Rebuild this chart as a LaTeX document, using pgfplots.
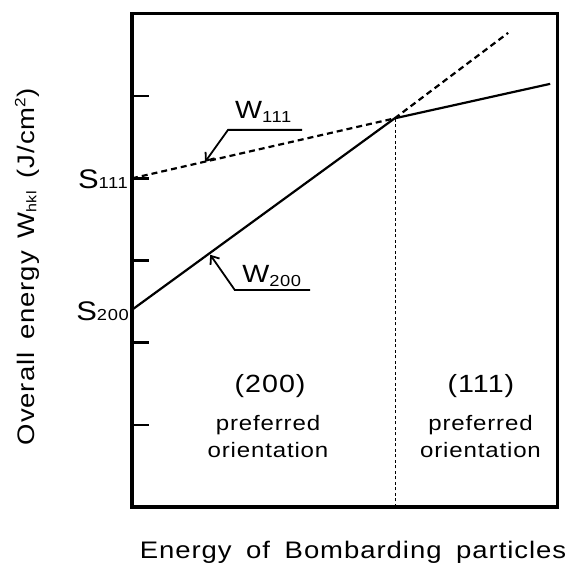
\documentclass[border=0pt]{standalone}
\usepackage{fontspec}
\setmainfont[FakeStretch=1.15,LetterSpace=4]{Liberation Sans}
\usepackage{pgfplots}
\pgfplotsset{compat=1.18}
\usetikzlibrary{arrows.meta}
\newcommand{\sub}[2][-4bp]{\raisebox{#1}{\fontsize{16}{16}\selectfont #2}}
\begin{document}
\begin{tikzpicture}
\useasboundingbox (0,0) rectangle (568bp,565bp);
\begin{axis}[
  at={(132bp,58bp)}, anchor=south west,
  scale only axis, width=425bp, height=493bp,
  xmin=0, xmax=10, ymin=0, ymax=6,
  axis line style={line width=3bp},
  xtick=\empty, ytick={1,2,3,4,5}, yticklabels={},
  ytick pos=left, tick align=inside, major tick length=17bp,
  tick style={line width=2.4bp, black},
  xlabel={Energy\hspace{6bp} of\hspace{6bp} Bombarding\hspace{6bp} particles},
  xlabel style={at={(axis description cs:0.52,-0.091)}, anchor=center, inner sep=0, font=\fontsize{24}{28}\selectfont},
  ylabel={Overall\hspace{4bp} energy\hspace{4bp} W\raisebox{-2bp}{\fontsize{14}{14}\selectfont hkl}\hspace{4bp} (J/cm\raisebox{9bp}{\fontsize{15}{15}\selectfont 2})},
  ylabel style={at={(axis description cs:-0.247,0.487)}, anchor=center, inner sep=0, font=\fontsize{24}{28}\selectfont},
  clip=false,
]
% W200 (solid below crossing, dashed extension)
\addplot[black, line width=2.2bp] coordinates {(0,2.40) (6.18,4.73)};
\addplot[black, line width=2.2bp, dash pattern=on 6bp off 4bp] coordinates {(6.18,4.73) (8.85,5.77)};
% W111 (dashed below crossing, solid after)
\addplot[black, line width=2.2bp, dash pattern=on 6bp off 4bp] coordinates {(0,4.00) (6.18,4.73)};
\addplot[black, line width=2.2bp] coordinates {(6.18,4.73) (9.84,5.15)};
% boundary
\addplot[black, line width=1.8bp, dash pattern=on 3bp off 2.5bp] coordinates {(6.2,0) (6.2,4.73)};
% leaders
\addplot[black, line width=1.8bp, {Straight Barb[length=7bp,width=11bp]}-] coordinates {(1.72,4.20) (2.26,4.59) (4.0,4.59)};
\addplot[black, line width=1.8bp, {Straight Barb[length=7bp,width=11bp]}-] coordinates {(1.84,3.07) (2.42,2.64) (4.19,2.64)};
\node[anchor=base west, inner sep=0, font=\fontsize{25}{25}\selectfont] at (axis cs:2.42,4.73) {W\sub{111}};
\node[anchor=base west, inner sep=0, font=\fontsize{25}{25}\selectfont] at (axis cs:2.59,2.73) {W\sub{200}};
\node[anchor=base east, inner sep=0, xshift=-4bp, yshift=-10bp, font=\fontsize{27}{27}\selectfont] at (axis cs:0,4.00) {S\sub[0bp]{111}};
\node[anchor=base east, inner sep=0, xshift=-3bp, yshift=-11bp, font=\fontsize{27}{27}\selectfont] at (axis cs:0,2.40) {S\sub[0bp]{200}};
% region labels
\node[anchor=center, font=\fontsize{25}{25}\selectfont] at (axis cs:3.25,1.47) {(200)};
\node[anchor=center, font=\fontsize{25}{25}\selectfont] at (axis cs:8.21,1.47) {(111)};
\node[anchor=center, align=center, font=\fontsize{21}{27}\selectfont] at (axis cs:3.2,0.86) {preferred\\orientation};
\node[anchor=center, align=center, font=\fontsize{21}{27}\selectfont] at (axis cs:8.2,0.86) {preferred\\orientation};
\end{axis}
\end{tikzpicture}
\end{document}
